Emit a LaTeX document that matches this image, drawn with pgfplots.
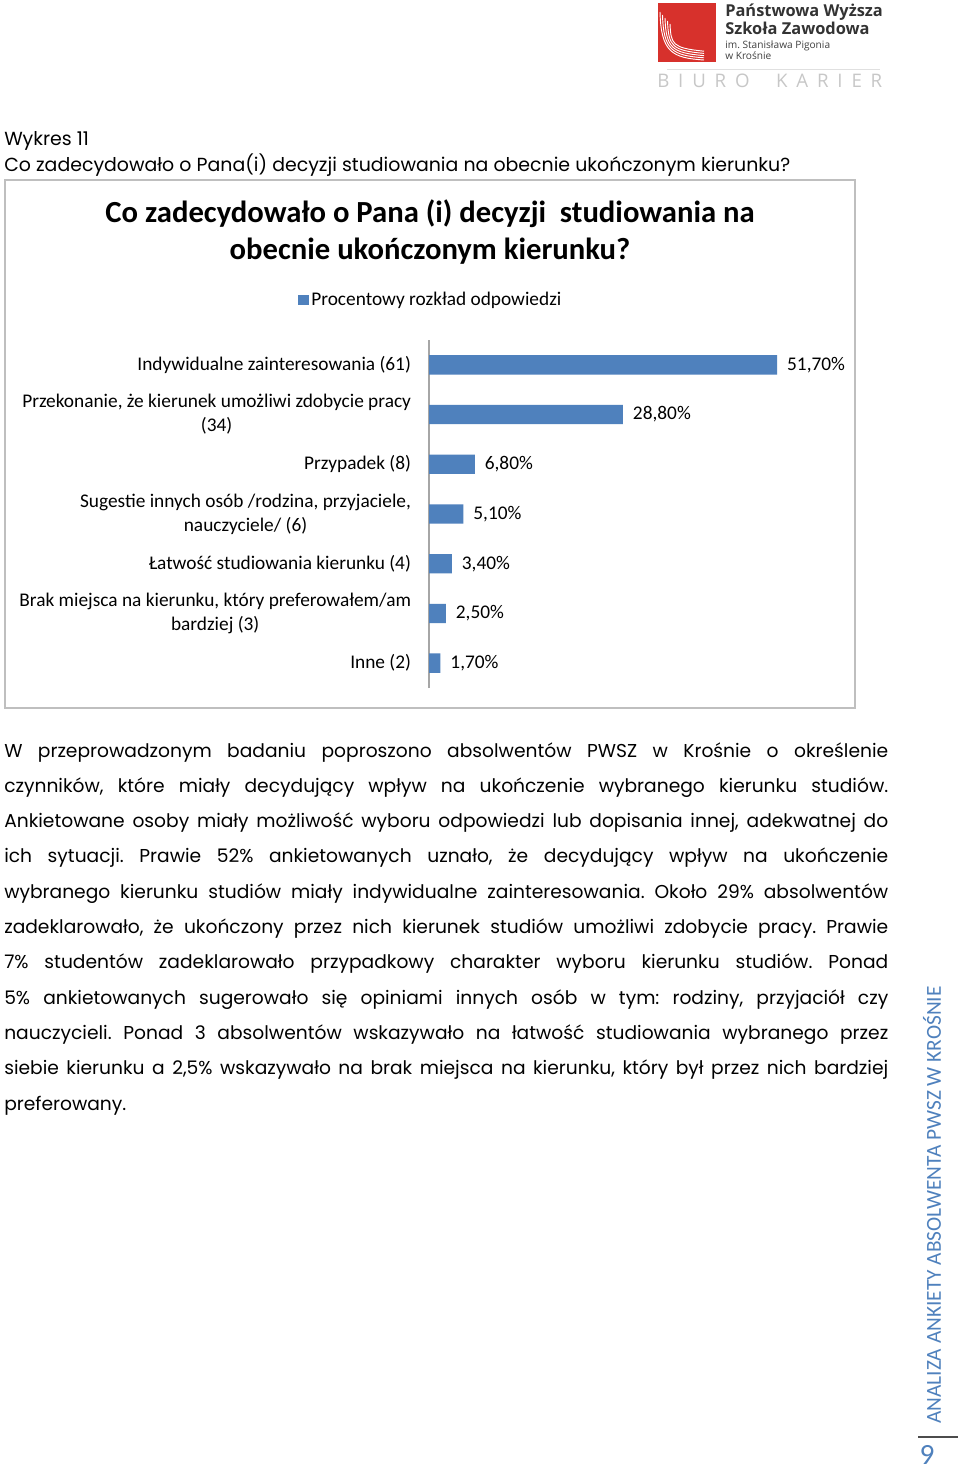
\documentclass[border=0pt]{standalone}
\usepackage{fontspec}
\setmainfont{Carlito}
\newfontfamily\gothic{Poppins}
\newfontfamily\osans{Open Sans}
\usepackage{pgfplots}
\pgfplotsset{compat=1.18}
\definecolor{barblue}{HTML}{4F81BD}
\definecolor{sideblue}{HTML}{4F81BD}
\definecolor{logored}{HTML}{D7312C}
\definecolor{boxgray}{HTML}{BFBFBF}
\definecolor{axgray}{HTML}{A6A6A6}
\frenchspacing

% one justified body line, y = baseline in px
\newcommand{\bline}[2]{\node[anchor=base west, inner sep=0pt,
  font=\gothic\fontsize{14pt}{16pt}\selectfont] at (4,#1) {\makebox[663pt][s]{#2}};}

\begin{document}
\begin{tikzpicture}
\begin{scope}[x=0.75pt, y=-0.75pt]
  \fill[white] (0,0) rectangle (960,1470);
  \useasboundingbox (0,0) rectangle (960,1470);

  % logo
  \fill[logored] (658,3) rectangle (716,62);
  \foreach \i in {0,1,2,3,4}
    \draw[white, line width=0.7pt] (660+2.5*\i,12+3*\i) .. controls (661+2.5*\i,52-2*\i) and (672,58-2.5*\i) .. (704,60-2.2*\i);
  \node[anchor=base west, inner sep=0pt, text=black!80, font=\osans\bfseries\fontsize{12.3pt}{15pt}\selectfont] at (725,17) {Państwowa Wyższa};
  \node[anchor=base west, inner sep=0pt, text=black!80, font=\osans\bfseries\fontsize{12.3pt}{15pt}\selectfont] at (725,35) {Szkoła Zawodowa};
  \node[anchor=base west, inner sep=0pt, text=black!75, font=\osans\fontsize{7.6pt}{9pt}\selectfont] at (725,49) {im. Stanisława Pigonia};
  \node[anchor=base west, inner sep=0pt, text=black!75, font=\osans\fontsize{7.6pt}{9pt}\selectfont] at (725,60) {w Krośnie};
  \draw[black!12, line width=0.5pt] (667,69) -- (880,69);
  \node[anchor=base west, inner sep=0pt, text=black!22, font=\osans\fontsize{14pt}{16pt}\selectfont] at (657,88)
    {\makebox[168.75pt][s]{B\hfill I\hfill U\hfill R\hfill O\hfill\hfill\hfill K\hfill A\hfill R\hfill I\hfill E\hfill R}};

  % caption above the chart
  \node[anchor=base west, inner sep=0pt, font=\gothic\fontsize{14.2pt}{16pt}\selectfont] at (4,145) {Wykres 11};
  \node[anchor=base west, inner sep=0pt, font=\gothic\fontsize{14.2pt}{16pt}\selectfont] at (4,171)
    {\makebox[589.5pt][s]{Co zadecydowało o Pana(i) decyzji studiowania na obecnie ukończonym kierunku?}};

  % chart frame and title
  \draw[boxgray, line width=1.5pt] (5,180) rectangle (855,708);
  \node[anchor=base, inner sep=0pt, font=\bfseries\fontsize{23pt}{26pt}\selectfont] at (430,222)
    {Co zadecydowało o Pana (i) decyzji\ \ studiowania na};
  \node[anchor=base, inner sep=0pt, font=\bfseries\fontsize{23pt}{26pt}\selectfont] at (430,259)
    {obecnie ukończonym kierunku?};

  % body text
  \bline{757}{W przeprowadzonym badaniu poproszono absolwentów PWSZ w Krośnie o określenie}
  \bline{792.3}{czynników, które miały decydujący wpływ na ukończenie wybranego kierunku studiów.}
  \bline{827.6}{Ankietowane osoby miały możliwość wyboru odpowiedzi lub dopisania innej, adekwatnej do}
  \bline{862.9}{ich sytuacji. Prawie 52\% ankietowanych uznało, że decydujący wpływ na ukończenie}
  \bline{898.2}{wybranego kierunku studiów miały indywidualne zainteresowania. Około 29\% absolwentów}
  \bline{933.5}{zadeklarowało, że ukończony przez nich kierunek studiów umożliwi zdobycie pracy. Prawie}
  \bline{968.8}{7\% studentów zadeklarowało przypadkowy charakter wyboru kierunku studiów. Ponad}
  \bline{1004.1}{5\% ankietowanych sugerowało się opiniami innych osób w tym: rodziny, przyjaciół czy}
  \bline{1039.4}{nauczycieli. Ponad 3 absolwentów wskazywało na łatwość studiowania wybranego przez}
  \bline{1074.7}{siebie kierunku a 2,5\% wskazywało na brak miejsca na kierunku, który był przez nich bardziej}
  \node[anchor=base west, inner sep=0pt, font=\gothic\fontsize{14pt}{16pt}\selectfont] at (4,1110) {preferowany.};

  % side bar
  \node[rotate=90, inner sep=0pt, text=sideblue, font=\fontsize{16pt}{18pt}\selectfont] at (932,1205)
    {ANALIZA ANKIETY ABSOLWENTA PWSZ W KROŚNIE};
  \draw[black!70, line width=0.8pt] (918,1437) -- (958,1437);
  \node[inner sep=0pt, text=sideblue, font=\fontsize{22pt}{24pt}\selectfont] at (927,1455) {9};
\end{scope}

\begin{axis}[
  at={(321.75pt,-516pt)}, anchor=south west,
  scale only axis, width=303pt, height=261pt,
  xbar, bar width=14.5pt,
  xmin=0, xmax=60, ymin=-0.5, ymax=6.5,
  axis x line=none,
  axis y line=left,
  y axis line style={-, draw=axgray, line width=1pt},
  xtick=\empty,
  ytick={0,1,2,3,4,5,6},
  yticklabels={Inne (2),
    {Brak miejsca na kierunku, który preferowałem/am\\bardziej (3)},
    Łatwość studiowania kierunku (4),
    {Sugestie innych osób /rodzina, przyjaciele,\\nauczyciele/ (6)},
    Przypadek (8),
    {Przekonanie, że kierunek umożliwi zdobycie pracy\\(34)},
    Indywidualne zainteresowania (61)},
  yticklabel style={align=center, font=\fontsize{14.5pt}{18pt}\selectfont, xshift=-10pt},
  major tick length=0pt,
  clip=false,
  point meta=x,
  nodes near coords={\pgfmathprintnumber[fixed, fixed zerofill, precision=2, use comma, assume math mode=true]{\pgfplotspointmeta}\%},
  nodes near coords style={font=\fontsize{14.5pt}{16pt}\selectfont, xshift=4pt},
  legend style={at={(rel axis cs:0.005,1.115)}, anchor=center, draw=none, fill=none,
    font=\fontsize{14.5pt}{16pt}\selectfont, inner sep=0pt},
  legend image code/.code={\fill[barblue] (0pt,-4pt) rectangle (8pt,4pt);},
]
\addplot[fill=barblue, draw=none] coordinates {
  (1.7,0) (2.5,1) (3.4,2) (5.1,3) (6.8,4) (28.8,5) (51.7,6)
};
\addlegendentry{Procentowy rozkład odpowiedzi}
\end{axis}
\end{tikzpicture}
\end{document}
